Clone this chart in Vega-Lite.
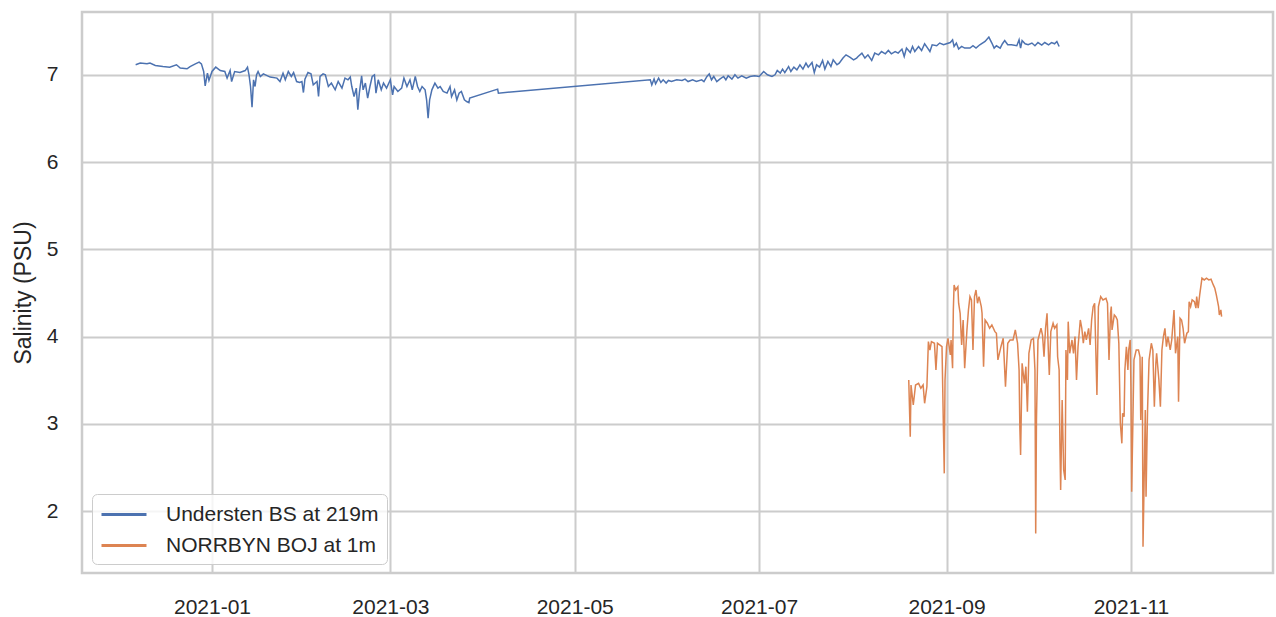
{
  "$schema": "https://vega.github.io/schema/vega-lite/v6.json",
  "width": 1191,
  "height": 561,
  "autosize": {"type": "none"},
  "padding": {"left": 82, "top": 12, "right": 3, "bottom": 44},
  "background": "white",
  "config": {
    "font": "Liberation Sans",
    "view": {"stroke": "#cccccc", "strokeWidth": 2.5},
    "axis": {
      "grid": true,
      "gridColor": "#cccccc",
      "gridWidth": 2,
      "domain": false,
      "ticks": false,
      "labelFont": "Liberation Sans",
      "labelFontSize": 21,
      "labelColor": "#262626",
      "titleFont": "Liberation Sans",
      "titleFontSize": 23,
      "titleColor": "#262626",
      "titleFontWeight": "normal"
    },
    "legend": {
      "orient": "none",
      "legendX": 10,
      "legendY": 482,
      "title": null,
      "padding": 8,
      "fillColor": "rgba(255,255,255,0.8)",
      "strokeColor": "#cccccc",
      "cornerRadius": 5,
      "symbolType": "M-1,0H3.09",
      "symbolSize": 484,
      "symbolStrokeWidth": 3,
      "labelFont": "Liberation Sans",
      "labelFontSize": 21,
      "labelColor": "#262626",
      "labelOffset": 41,
      "labelLimit": 500,
      "rowPadding": 8
    }
  },
  "encoding": {
    "x": {
      "field": "t",
      "type": "temporal",
      "title": null,
      "scale": {"domain": [{"year": 2020, "month": 11, "date": 19}, {"year": 2021, "month": 12, "date": 18}]},
      "axis": {
        "format": "%Y-%m",
        "labelPadding": 23,
        "labelAngle": 0,
        "values": [
          {"year": 2021, "month": 1, "date": 1},
          {"year": 2021, "month": 3, "date": 1},
          {"year": 2021, "month": 5, "date": 1},
          {"year": 2021, "month": 7, "date": 1},
          {"year": 2021, "month": 9, "date": 1},
          {"year": 2021, "month": 11, "date": 1}
        ]
      }
    },
    "y": {
      "field": "v",
      "type": "quantitative",
      "title": "Salinity (PSU)",
      "scale": {"domain": [1.29, 7.72], "nice": false, "zero": false},
      "axis": {"values": [2, 3, 4, 5, 6, 7], "labelPadding": 24, "titlePadding": 11}
    }
  },
  "layer": [
    {
      "data": {"values": [
        {"t":"2020-12-06T18:00","v":7.115},{"t":"2020-12-08T06:00","v":7.134},{"t":"2020-12-10T12:00","v":7.126},{"t":"2020-12-11T12:00","v":7.134},
        {"t":"2020-12-13T06:00","v":7.107},{"t":"2020-12-15T18:00","v":7.095},{"t":"2020-12-18T00:00","v":7.088},{"t":"2020-12-20T06:00","v":7.115},
        {"t":"2020-12-21T12:00","v":7.077},{"t":"2020-12-23T18:00","v":7.069},{"t":"2020-12-24T18:00","v":7.095},{"t":"2020-12-26T12:00","v":7.126},
        {"t":"2020-12-27T18:00","v":7.146},{"t":"2020-12-28T12:00","v":7.126},{"t":"2020-12-29T06:00","v":7.038},{"t":"2020-12-29T18:00","v":6.874},
        {"t":"2020-12-30T12:00","v":7.019},{"t":"2020-12-31T00:00","v":6.935},{"t":"2021-01-01T00:00","v":7.038},{"t":"2021-01-02T06:00","v":7.088},
        {"t":"2021-01-03T18:00","v":7.049},{"t":"2021-01-05T06:00","v":7.038},{"t":"2021-01-06T00:00","v":6.962},{"t":"2021-01-07T00:00","v":7.049},
        {"t":"2021-01-07T12:00","v":6.923},{"t":"2021-01-08T12:00","v":7.038},{"t":"2021-01-10T06:00","v":7.026},{"t":"2021-01-12T00:00","v":7.049},
        {"t":"2021-01-12T18:00","v":7.088},{"t":"2021-01-13T06:00","v":7.0},{"t":"2021-01-13T18:00","v":6.866},{"t":"2021-01-14T06:00","v":6.63},
        {"t":"2021-01-14T18:00","v":6.943},{"t":"2021-01-15T06:00","v":6.866},{"t":"2021-01-15T18:00","v":7.0},{"t":"2021-01-16T06:00","v":7.038},
        {"t":"2021-01-17T00:00","v":6.981},{"t":"2021-01-18T00:00","v":7.011},{"t":"2021-01-20T06:00","v":6.974},{"t":"2021-01-22T12:00","v":6.962},
        {"t":"2021-01-23T12:00","v":6.923},{"t":"2021-01-24T12:00","v":7.019},{"t":"2021-01-25T06:00","v":6.943},{"t":"2021-01-26T06:00","v":7.038},
        {"t":"2021-01-27T06:00","v":6.981},{"t":"2021-01-28T00:00","v":7.026},{"t":"2021-01-29T00:00","v":6.923},{"t":"2021-01-30T00:00","v":6.912},
        {"t":"2021-01-30T18:00","v":6.923},{"t":"2021-01-31T06:00","v":6.797},{"t":"2021-01-31T18:00","v":6.951},{"t":"2021-02-01T18:00","v":7.026},
        {"t":"2021-02-02T18:00","v":7.011},{"t":"2021-02-03T12:00","v":6.885},{"t":"2021-02-04T18:00","v":6.923},{"t":"2021-02-05T06:00","v":6.751},
        {"t":"2021-02-05T18:00","v":6.981},{"t":"2021-02-06T18:00","v":7.011},{"t":"2021-02-07T12:00","v":7.0},{"t":"2021-02-08T12:00","v":6.866},
        {"t":"2021-02-09T12:00","v":6.905},{"t":"2021-02-10T18:00","v":6.828},{"t":"2021-02-11T18:00","v":6.923},{"t":"2021-02-13T00:00","v":6.847},
        {"t":"2021-02-14T00:00","v":6.962},{"t":"2021-02-15T00:00","v":6.943},{"t":"2021-02-15T18:00","v":6.974},{"t":"2021-02-16T06:00","v":6.866},
        {"t":"2021-02-17T00:00","v":6.751},{"t":"2021-02-17T18:00","v":6.847},{"t":"2021-02-18T06:00","v":6.599},{"t":"2021-02-18T18:00","v":6.79},
        {"t":"2021-02-19T12:00","v":6.989},{"t":"2021-02-20T00:00","v":6.828},{"t":"2021-02-20T18:00","v":6.905},{"t":"2021-02-21T12:00","v":6.733},
        {"t":"2021-02-22T06:00","v":6.866},{"t":"2021-02-23T00:00","v":6.981},{"t":"2021-02-23T18:00","v":7.0},{"t":"2021-02-24T06:00","v":6.79},
        {"t":"2021-02-25T00:00","v":6.943},{"t":"2021-02-26T00:00","v":6.828},{"t":"2021-02-26T18:00","v":6.905},{"t":"2021-02-27T18:00","v":6.847},
        {"t":"2021-03-01T00:00","v":6.943},{"t":"2021-03-01T18:00","v":6.771},{"t":"2021-03-02T06:00","v":6.866},{"t":"2021-03-03T12:00","v":6.809},
        {"t":"2021-03-04T18:00","v":6.847},{"t":"2021-03-05T12:00","v":6.962},{"t":"2021-03-06T12:00","v":6.866},{"t":"2021-03-07T12:00","v":6.943},
        {"t":"2021-03-08T06:00","v":6.828},{"t":"2021-03-09T06:00","v":6.981},{"t":"2021-03-10T00:00","v":6.866},{"t":"2021-03-10T18:00","v":6.809},
        {"t":"2021-03-11T12:00","v":6.866},{"t":"2021-03-12T12:00","v":6.828},{"t":"2021-03-13T00:00","v":6.713},{"t":"2021-03-13T12:00","v":6.503},
        {"t":"2021-03-14T00:00","v":6.713},{"t":"2021-03-14T18:00","v":6.828},{"t":"2021-03-15T18:00","v":6.905},{"t":"2021-03-16T18:00","v":6.847},
        {"t":"2021-03-17T12:00","v":6.866},{"t":"2021-03-18T12:00","v":6.809},{"t":"2021-03-19T18:00","v":6.79},{"t":"2021-03-20T18:00","v":6.866},
        {"t":"2021-03-21T06:00","v":6.751},{"t":"2021-03-22T06:00","v":6.828},{"t":"2021-03-23T00:00","v":6.713},{"t":"2021-03-23T18:00","v":6.79},
        {"t":"2021-03-24T12:00","v":6.809},{"t":"2021-03-25T12:00","v":6.713},{"t":"2021-03-26T06:00","v":6.694},{"t":"2021-03-27T00:00","v":6.682},
        {"t":"2021-03-27T06:00","v":6.733},{"t":"2021-04-05T12:00","v":6.836},{"t":"2021-04-05T18:00","v":6.79},{"t":"2021-05-26T00:00","v":6.943},
        {"t":"2021-05-26T12:00","v":6.885},{"t":"2021-05-27T06:00","v":6.951},{"t":"2021-05-27T18:00","v":6.897},{"t":"2021-05-28T18:00","v":6.962},
        {"t":"2021-05-29T12:00","v":6.912},{"t":"2021-05-30T06:00","v":6.943},{"t":"2021-05-31T06:00","v":6.905},{"t":"2021-06-01T00:00","v":6.935},
        {"t":"2021-06-02T00:00","v":6.923},{"t":"2021-06-03T18:00","v":6.943},{"t":"2021-06-05T12:00","v":6.935},{"t":"2021-06-06T12:00","v":6.951},
        {"t":"2021-06-07T12:00","v":6.923},{"t":"2021-06-09T00:00","v":6.943},{"t":"2021-06-10T06:00","v":6.923},{"t":"2021-06-12T00:00","v":6.943},
        {"t":"2021-06-12T18:00","v":6.923},{"t":"2021-06-13T18:00","v":6.981},{"t":"2021-06-14T12:00","v":7.011},{"t":"2021-06-15T06:00","v":6.943},
        {"t":"2021-06-16T00:00","v":6.981},{"t":"2021-06-17T00:00","v":6.923},{"t":"2021-06-18T00:00","v":6.951},{"t":"2021-06-19T06:00","v":6.981},
        {"t":"2021-06-20T00:00","v":6.943},{"t":"2021-06-20T18:00","v":6.989},{"t":"2021-06-22T00:00","v":6.951},{"t":"2021-06-23T00:00","v":7.0},
        {"t":"2021-06-24T00:00","v":6.962},{"t":"2021-06-25T06:00","v":6.989},{"t":"2021-06-26T18:00","v":6.962},{"t":"2021-06-28T00:00","v":6.981},
        {"t":"2021-06-29T12:00","v":6.989},{"t":"2021-07-01T00:00","v":6.981},{"t":"2021-07-02T12:00","v":7.038},{"t":"2021-07-03T18:00","v":7.0},
        {"t":"2021-07-05T06:00","v":6.981},{"t":"2021-07-06T06:00","v":7.0},{"t":"2021-07-07T00:00","v":7.049},{"t":"2021-07-08T00:00","v":7.019},
        {"t":"2021-07-08T18:00","v":7.065},{"t":"2021-07-09T12:00","v":7.026},{"t":"2021-07-10T18:00","v":7.095},{"t":"2021-07-11T12:00","v":7.038},
        {"t":"2021-07-12T12:00","v":7.088},{"t":"2021-07-13T12:00","v":7.057},{"t":"2021-07-14T12:00","v":7.115},{"t":"2021-07-15T12:00","v":7.065},
        {"t":"2021-07-16T12:00","v":7.134},{"t":"2021-07-17T06:00","v":7.088},{"t":"2021-07-18T12:00","v":7.141},{"t":"2021-07-19T06:00","v":7.026},
        {"t":"2021-07-20T00:00","v":7.115},{"t":"2021-07-21T00:00","v":7.088},{"t":"2021-07-22T00:00","v":7.164},{"t":"2021-07-22T18:00","v":7.065},
        {"t":"2021-07-23T18:00","v":7.153},{"t":"2021-07-24T18:00","v":7.095},{"t":"2021-07-25T12:00","v":7.172},{"t":"2021-07-26T18:00","v":7.115},
        {"t":"2021-07-27T12:00","v":7.134},{"t":"2021-07-28T18:00","v":7.192},{"t":"2021-07-29T18:00","v":7.229},{"t":"2021-07-31T00:00","v":7.203},
        {"t":"2021-08-01T06:00","v":7.172},{"t":"2021-08-02T06:00","v":7.192},{"t":"2021-08-02T18:00","v":7.21},{"t":"2021-08-04T00:00","v":7.249},
        {"t":"2021-08-05T00:00","v":7.192},{"t":"2021-08-06T00:00","v":7.229},{"t":"2021-08-07T06:00","v":7.164},{"t":"2021-08-08T06:00","v":7.249},
        {"t":"2021-08-09T12:00","v":7.229},{"t":"2021-08-10T12:00","v":7.267},{"t":"2021-08-11T18:00","v":7.241},{"t":"2021-08-12T18:00","v":7.279},
        {"t":"2021-08-13T18:00","v":7.241},{"t":"2021-08-15T00:00","v":7.267},{"t":"2021-08-16T00:00","v":7.249},{"t":"2021-08-17T06:00","v":7.295},
        {"t":"2021-08-18T00:00","v":7.21},{"t":"2021-08-18T18:00","v":7.306},{"t":"2021-08-20T00:00","v":7.256},{"t":"2021-08-20T18:00","v":7.325},
        {"t":"2021-08-21T12:00","v":7.267},{"t":"2021-08-22T18:00","v":7.325},{"t":"2021-08-23T18:00","v":7.279},{"t":"2021-08-24T18:00","v":7.356},
        {"t":"2021-08-25T18:00","v":7.306},{"t":"2021-08-26T12:00","v":7.267},{"t":"2021-08-27T06:00","v":7.344},{"t":"2021-08-28T18:00","v":7.333},
        {"t":"2021-08-29T18:00","v":7.364},{"t":"2021-08-31T00:00","v":7.344},{"t":"2021-09-01T00:00","v":7.356},{"t":"2021-09-02T06:00","v":7.37},
        {"t":"2021-09-03T00:00","v":7.401},{"t":"2021-09-03T12:00","v":7.325},{"t":"2021-09-04T06:00","v":7.364},{"t":"2021-09-05T00:00","v":7.295},
        {"t":"2021-09-06T00:00","v":7.325},{"t":"2021-09-07T00:00","v":7.306},{"t":"2021-09-08T18:00","v":7.306},{"t":"2021-09-09T18:00","v":7.333},
        {"t":"2021-09-10T18:00","v":7.306},{"t":"2021-09-12T00:00","v":7.344},{"t":"2021-09-13T18:00","v":7.382},{"t":"2021-09-15T00:00","v":7.432},
        {"t":"2021-09-16T00:00","v":7.364},{"t":"2021-09-16T18:00","v":7.306},{"t":"2021-09-17T12:00","v":7.333},{"t":"2021-09-18T18:00","v":7.306},
        {"t":"2021-09-19T12:00","v":7.356},{"t":"2021-09-20T06:00","v":7.393},{"t":"2021-09-21T06:00","v":7.344},{"t":"2021-09-22T12:00","v":7.344},
        {"t":"2021-09-24T06:00","v":7.333},{"t":"2021-09-25T00:00","v":7.401},{"t":"2021-09-25T12:00","v":7.306},{"t":"2021-09-26T00:00","v":7.393},
        {"t":"2021-09-27T00:00","v":7.356},{"t":"2021-09-28T00:00","v":7.344},{"t":"2021-09-29T06:00","v":7.364},{"t":"2021-09-30T06:00","v":7.333},
        {"t":"2021-10-01T06:00","v":7.37},{"t":"2021-10-02T12:00","v":7.341},{"t":"2021-10-03T12:00","v":7.37},{"t":"2021-10-04T18:00","v":7.344},
        {"t":"2021-10-05T18:00","v":7.37},{"t":"2021-10-06T18:00","v":7.356},{"t":"2021-10-07T12:00","v":7.382},{"t":"2021-10-08T06:00","v":7.325}
      ]},
      "mark": {"type": "line", "strokeWidth": 1.5, "interpolate": "linear"},
      "encoding": {
        "color": {
          "datum": "Understen BS at 219m",
          "type": "nominal",
          "scale": {"domain": ["Understen BS at 219m", "NORRBYN BOJ at 1m"], "range": ["#4c72b0", "#dd8452"]}
        }
      }
    },
    {
      "data": {"values": [
        {"t":"2021-08-19T12:00","v":3.502},{"t":"2021-08-20T00:00","v":2.852},{"t":"2021-08-20T06:00","v":3.445},{"t":"2021-08-21T00:00","v":3.216},
        {"t":"2021-08-21T18:00","v":3.445},{"t":"2021-08-22T18:00","v":3.464},{"t":"2021-08-23T12:00","v":3.407},{"t":"2021-08-24T06:00","v":3.445},
        {"t":"2021-08-24T18:00","v":3.235},{"t":"2021-08-25T12:00","v":3.425},{"t":"2021-08-26T00:00","v":3.942},{"t":"2021-08-26T12:00","v":3.846},
        {"t":"2021-08-27T00:00","v":3.942},{"t":"2021-08-28T00:00","v":3.923},{"t":"2021-08-28T12:00","v":3.617},{"t":"2021-08-29T00:00","v":3.923},
        {"t":"2021-08-29T18:00","v":3.904},{"t":"2021-08-30T12:00","v":3.884},{"t":"2021-08-31T00:00","v":2.891},{"t":"2021-08-31T06:00","v":2.432},
        {"t":"2021-08-31T12:00","v":3.502},{"t":"2021-09-01T00:00","v":3.884},{"t":"2021-09-01T12:00","v":3.98},{"t":"2021-09-02T06:00","v":3.789},
        {"t":"2021-09-02T12:00","v":3.961},{"t":"2021-09-03T00:00","v":3.636},{"t":"2021-09-03T06:00","v":4.305},{"t":"2021-09-03T12:00","v":4.592},
        {"t":"2021-09-04T00:00","v":4.534},{"t":"2021-09-04T18:00","v":4.572},{"t":"2021-09-05T00:00","v":4.382},{"t":"2021-09-05T12:00","v":4.267},
        {"t":"2021-09-06T00:00","v":3.904},{"t":"2021-09-06T12:00","v":4.19},{"t":"2021-09-07T00:00","v":3.636},{"t":"2021-09-07T18:00","v":4.076},
        {"t":"2021-09-08T06:00","v":4.305},{"t":"2021-09-08T18:00","v":4.458},{"t":"2021-09-09T06:00","v":4.42},{"t":"2021-09-09T18:00","v":3.846},
        {"t":"2021-09-10T06:00","v":4.458},{"t":"2021-09-10T18:00","v":4.534},{"t":"2021-09-11T06:00","v":4.382},{"t":"2021-09-11T18:00","v":4.458},
        {"t":"2021-09-12T12:00","v":4.343},{"t":"2021-09-12T18:00","v":4.267},{"t":"2021-09-13T06:00","v":3.655},{"t":"2021-09-13T18:00","v":4.19},
        {"t":"2021-09-14T12:00","v":4.153},{"t":"2021-09-15T06:00","v":4.095},{"t":"2021-09-16T00:00","v":4.133},{"t":"2021-09-17T00:00","v":4.056},
        {"t":"2021-09-17T12:00","v":4.038},{"t":"2021-09-18T00:00","v":3.732},{"t":"2021-09-19T00:00","v":3.884},{"t":"2021-09-19T18:00","v":3.98},
        {"t":"2021-09-20T12:00","v":3.425},{"t":"2021-09-21T06:00","v":3.923},{"t":"2021-09-22T00:00","v":3.961},{"t":"2021-09-23T00:00","v":3.961},
        {"t":"2021-09-23T18:00","v":4.076},{"t":"2021-09-24T12:00","v":3.923},{"t":"2021-09-25T00:00","v":3.617},{"t":"2021-09-25T06:00","v":2.967},
        {"t":"2021-09-25T12:00","v":2.642},{"t":"2021-09-26T00:00","v":3.694},{"t":"2021-09-26T18:00","v":3.464},{"t":"2021-09-27T06:00","v":3.655},
        {"t":"2021-09-27T18:00","v":3.139},{"t":"2021-09-28T06:00","v":3.808},{"t":"2021-09-29T00:00","v":3.961},{"t":"2021-09-29T18:00","v":3.98},
        {"t":"2021-09-30T06:00","v":3.617},{"t":"2021-09-30T12:00","v":1.744},{"t":"2021-09-30T18:00","v":3.044},{"t":"2021-10-01T06:00","v":3.961},
        {"t":"2021-10-02T06:00","v":4.095},{"t":"2021-10-02T18:00","v":4.018},{"t":"2021-10-03T06:00","v":3.769},{"t":"2021-10-03T18:00","v":4.095},
        {"t":"2021-10-04T06:00","v":4.267},{"t":"2021-10-04T18:00","v":3.769},{"t":"2021-10-05T00:00","v":3.56},{"t":"2021-10-05T12:00","v":4.056},
        {"t":"2021-10-06T06:00","v":4.153},{"t":"2021-10-06T18:00","v":4.095},{"t":"2021-10-07T12:00","v":4.133},{"t":"2021-10-07T18:00","v":3.769},
        {"t":"2021-10-08T06:00","v":3.617},{"t":"2021-10-08T12:00","v":2.776},{"t":"2021-10-08T18:00","v":2.241},{"t":"2021-10-09T06:00","v":3.273},
        {"t":"2021-10-09T18:00","v":2.47},{"t":"2021-10-10T06:00","v":2.356},{"t":"2021-10-10T12:00","v":3.846},{"t":"2021-10-11T00:00","v":3.502},
        {"t":"2021-10-11T06:00","v":4.171},{"t":"2021-10-11T18:00","v":3.808},{"t":"2021-10-12T12:00","v":3.961},{"t":"2021-10-13T00:00","v":3.808},
        {"t":"2021-10-13T12:00","v":3.999},{"t":"2021-10-14T00:00","v":3.502},{"t":"2021-10-14T12:00","v":3.884},{"t":"2021-10-15T06:00","v":4.19},
        {"t":"2021-10-15T18:00","v":4.095},{"t":"2021-10-16T06:00","v":3.923},{"t":"2021-10-16T18:00","v":4.056},{"t":"2021-10-17T06:00","v":3.961},
        {"t":"2021-10-18T00:00","v":4.095},{"t":"2021-10-18T12:00","v":3.904},{"t":"2021-10-19T00:00","v":4.19},{"t":"2021-10-19T12:00","v":4.343},
        {"t":"2021-10-20T00:00","v":4.382},{"t":"2021-10-20T18:00","v":3.33},{"t":"2021-10-21T06:00","v":4.343},{"t":"2021-10-22T00:00","v":4.458},
        {"t":"2021-10-22T18:00","v":4.42},{"t":"2021-10-23T18:00","v":4.439},{"t":"2021-10-24T06:00","v":4.382},{"t":"2021-10-24T18:00","v":3.732},
        {"t":"2021-10-25T06:00","v":4.267},{"t":"2021-10-25T12:00","v":4.343},{"t":"2021-10-25T18:00","v":4.076},{"t":"2021-10-26T12:00","v":4.248},
        {"t":"2021-10-27T00:00","v":4.228},{"t":"2021-10-27T12:00","v":4.19},{"t":"2021-10-28T00:00","v":3.923},{"t":"2021-10-28T12:00","v":3.006},
        {"t":"2021-10-29T00:00","v":2.776},{"t":"2021-10-29T06:00","v":3.12},{"t":"2021-10-29T18:00","v":3.081},{"t":"2021-10-30T00:00","v":3.617},
        {"t":"2021-10-30T12:00","v":3.884},{"t":"2021-10-31T00:00","v":3.617},{"t":"2021-10-31T06:00","v":3.846},{"t":"2021-10-31T18:00","v":3.961},
        {"t":"2021-11-01T00:00","v":3.425},{"t":"2021-11-01T06:00","v":2.221},{"t":"2021-11-01T18:00","v":3.235},{"t":"2021-11-02T00:00","v":3.732},
        {"t":"2021-11-02T18:00","v":3.846},{"t":"2021-11-03T12:00","v":3.846},{"t":"2021-11-04T00:00","v":3.769},{"t":"2021-11-04T06:00","v":3.044},
        {"t":"2021-11-04T18:00","v":3.769},{"t":"2021-11-05T00:00","v":1.591},{"t":"2021-11-05T18:00","v":3.158},{"t":"2021-11-06T00:00","v":2.164},
        {"t":"2021-11-06T12:00","v":3.158},{"t":"2021-11-07T00:00","v":3.732},{"t":"2021-11-07T18:00","v":3.923},{"t":"2021-11-08T06:00","v":3.846},
        {"t":"2021-11-08T18:00","v":3.196},{"t":"2021-11-09T06:00","v":3.694},{"t":"2021-11-09T12:00","v":3.808},{"t":"2021-11-10T06:00","v":3.502},
        {"t":"2021-11-10T18:00","v":3.196},{"t":"2021-11-11T06:00","v":3.846},{"t":"2021-11-11T18:00","v":3.999},{"t":"2021-11-12T06:00","v":4.095},
        {"t":"2021-11-12T18:00","v":3.884},{"t":"2021-11-13T06:00","v":3.999},{"t":"2021-11-14T00:00","v":3.846},{"t":"2021-11-14T12:00","v":3.961},
        {"t":"2021-11-15T06:00","v":4.305},{"t":"2021-11-15T18:00","v":3.808},{"t":"2021-11-16T12:00","v":3.999},{"t":"2021-11-16T18:00","v":3.253},
        {"t":"2021-11-17T06:00","v":4.21},{"t":"2021-11-17T18:00","v":4.19},{"t":"2021-11-18T06:00","v":4.095},{"t":"2021-11-18T18:00","v":3.923},
        {"t":"2021-11-19T12:00","v":4.038},{"t":"2021-11-20T00:00","v":4.056},{"t":"2021-11-20T06:00","v":4.4},{"t":"2021-11-20T18:00","v":4.343},
        {"t":"2021-11-21T06:00","v":4.42},{"t":"2021-11-22T00:00","v":4.4},{"t":"2021-11-22T12:00","v":4.325},{"t":"2021-11-22T18:00","v":4.458},
        {"t":"2021-11-23T06:00","v":4.325},{"t":"2021-11-23T18:00","v":4.477},{"t":"2021-11-24T12:00","v":4.669},{"t":"2021-11-25T06:00","v":4.649},
        {"t":"2021-11-26T00:00","v":4.669},{"t":"2021-11-26T18:00","v":4.649},{"t":"2021-11-27T12:00","v":4.657},{"t":"2021-11-28T06:00","v":4.592},
        {"t":"2021-11-28T18:00","v":4.554},{"t":"2021-11-29T06:00","v":4.477},{"t":"2021-11-30T00:00","v":4.343},{"t":"2021-11-30T06:00","v":4.248},
        {"t":"2021-11-30T18:00","v":4.305},{"t":"2021-12-01T00:00","v":4.228}
      ]},
      "mark": {"type": "line", "strokeWidth": 1.5, "interpolate": "linear"},
      "encoding": {
        "color": {"datum": "NORRBYN BOJ at 1m", "type": "nominal"}
      }
    }
  ]
}
